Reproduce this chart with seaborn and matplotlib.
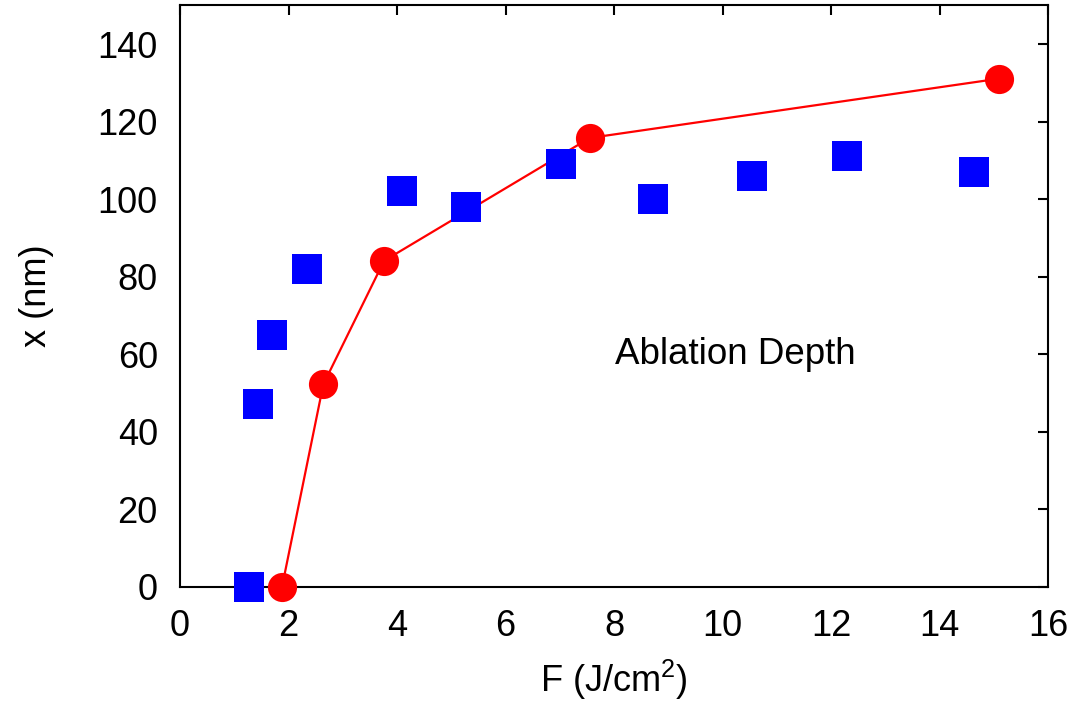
import matplotlib
matplotlib.use("Agg")
import matplotlib.pyplot as plt
import seaborn as sns
import pandas as pd

# Measured ablation depth (squares)
meas_fluence = [1.28, 1.43, 1.70, 2.34, 4.09, 5.27, 7.02, 8.72, 10.54, 12.29, 14.63]
meas_depth = [0.0, 47.2, 65.0, 82.0, 102.0, 98.1, 109.1, 100.1, 106.0, 111.1, 107.1]

# Model ablation depth (circles joined by line)
model_fluence = [1.88, 2.64, 3.76, 7.55, 15.09]
model_depth = [0.0, 52.2, 84.1, 115.8, 131.1]

x_ticks = [0, 2, 4, 6, 8, 10, 12, 14, 16]
y_ticks = [0, 20, 40, 60, 80, 100, 120, 140]

sns.set_theme(style="white")
plt.rcParams["font.family"] = ["Liberation Sans", "DejaVu Sans"]
plt.rcParams["mathtext.default"] = "regular"

FS = 26

fig = plt.figure(figsize=(10.78, 7.04), dpi=100)
ax = fig.add_axes([0.167, 0.1666, 0.8055, 0.8257])

meas = pd.DataFrame({"F": meas_fluence, "x": meas_depth})
model = pd.DataFrame({"F": model_fluence, "x": model_depth})

sns.lineplot(data=model, x="F", y="x", ax=ax, color="#ff0000", linewidth=1.6,
             marker="o", markersize=21, markeredgewidth=0, zorder=2,
             clip_on=False)
sns.scatterplot(data=meas, x="F", y="x", ax=ax, color="#0000ff", marker="s",
                s=21.5 ** 2, linewidth=0, zorder=3, clip_on=False)

ax.set_xlim(0, 16)
ax.set_ylim(0, 150)
ax.set_xticks(x_ticks)
ax.set_yticks(y_ticks)
ax.tick_params(axis="both", which="major", direction="in", length=7, width=1.5,
               top=True, right=True, labelsize=FS, colors="black", pad=16)
for s in ax.spines.values():
    s.set_color("black")
    s.set_linewidth(1.5)
    s.set_zorder(1)

ax.set_xlabel("F (J/cm$^2$)", fontsize=FS, labelpad=10, color="black")
ax.set_ylabel("x (nm)", fontsize=FS, labelpad=31, color="black")

ax.text(8.02, 60, "Ablation Depth", fontsize=26.5, color="black",
        ha="left", va="center")

fig.savefig("out.png", dpi=100)
